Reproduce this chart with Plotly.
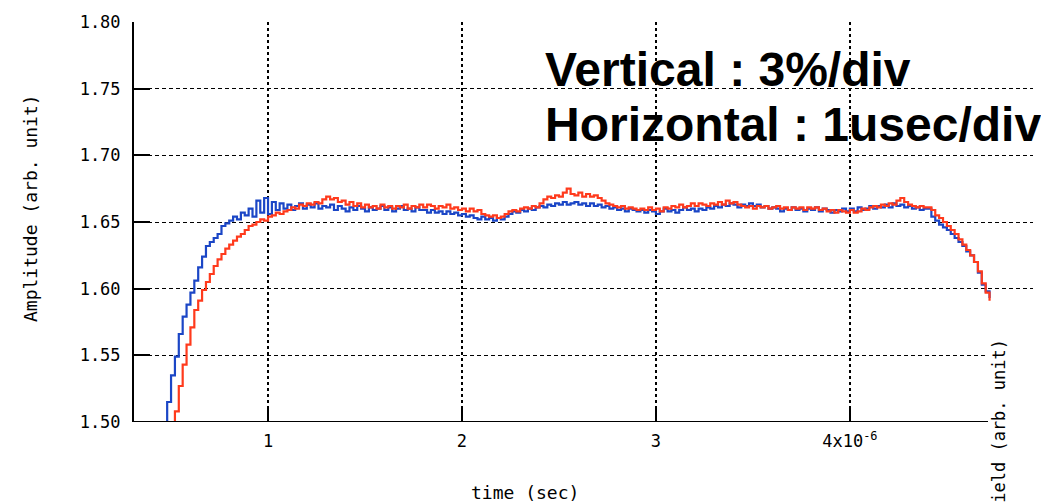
import plotly.graph_objects as go

# ---------------- data (time in microseconds, amplitude arb. unit) ----------------
T_START_US = 0.40
T_STEP_US = 0.02

blue_amplitude = [
    1.460, 1.470, 1.485, 1.499, 1.515, 1.535, 1.549, 1.566, 1.579, 1.588,
    1.597, 1.606, 1.616, 1.624, 1.632, 1.635, 1.638, 1.641, 1.647, 1.649,
    1.651, 1.654, 1.652, 1.657, 1.655, 1.660, 1.654, 1.666, 1.657, 1.668,
    1.656, 1.665, 1.659, 1.664, 1.660, 1.663, 1.659, 1.662, 1.664, 1.660,
    1.663, 1.661, 1.664, 1.660, 1.662, 1.661, 1.663, 1.659, 1.662, 1.660,
    1.658, 1.661, 1.659, 1.662, 1.660, 1.658, 1.661, 1.659, 1.660, 1.662,
    1.659, 1.661, 1.658, 1.660, 1.662, 1.659, 1.660, 1.658, 1.661, 1.659,
    1.659, 1.657, 1.659, 1.657, 1.658, 1.656, 1.658, 1.656, 1.657, 1.655,
    1.656, 1.654, 1.655, 1.653, 1.652, 1.654, 1.652, 1.653, 1.651, 1.653,
    1.652, 1.654, 1.656, 1.658, 1.657, 1.659, 1.658, 1.660, 1.659, 1.661,
    1.662, 1.661, 1.663, 1.662, 1.664, 1.663, 1.665, 1.663, 1.664, 1.665,
    1.663, 1.664, 1.662, 1.664, 1.662, 1.663, 1.661, 1.662, 1.660, 1.661,
    1.659, 1.660, 1.658, 1.660, 1.659, 1.658, 1.659, 1.657, 1.659, 1.658,
    1.656, 1.658, 1.660, 1.658, 1.659, 1.657, 1.659, 1.661, 1.659, 1.660,
    1.658, 1.660, 1.659, 1.661, 1.660, 1.662, 1.661, 1.663, 1.662, 1.664,
    1.663, 1.661, 1.663, 1.662, 1.664, 1.662, 1.663, 1.661, 1.662, 1.660,
    1.661, 1.660, 1.658, 1.660, 1.659, 1.661, 1.659, 1.660, 1.658, 1.660,
    1.659, 1.661, 1.658, 1.660, 1.659, 1.657, 1.659, 1.658, 1.660, 1.658,
    1.660, 1.658, 1.661, 1.659, 1.660, 1.662, 1.660, 1.662, 1.661, 1.663,
    1.661, 1.664, 1.662, 1.663, 1.661, 1.662, 1.660, 1.661, 1.659, 1.660,
    1.660, 1.654, 1.651, 1.648, 1.646, 1.644, 1.641, 1.638, 1.635, 1.632,
    1.628, 1.625, 1.620, 1.612, 1.603, 1.598, 1.593,
]

red_amplitude = [
    1.440, 1.450, 1.460, 1.470, 1.480, 1.495, 1.508, 1.527, 1.543, 1.558,
    1.571, 1.584, 1.591, 1.599, 1.605, 1.611, 1.617, 1.622, 1.626, 1.630,
    1.633, 1.636, 1.639, 1.641, 1.644, 1.647, 1.648, 1.650, 1.652, 1.651,
    1.654, 1.655, 1.657, 1.656, 1.658, 1.659, 1.661, 1.660, 1.663, 1.662,
    1.664, 1.663, 1.665, 1.664, 1.667, 1.669, 1.667, 1.668, 1.665, 1.666,
    1.663, 1.665, 1.662, 1.664, 1.661, 1.663, 1.661, 1.662, 1.660, 1.663,
    1.661, 1.662, 1.660, 1.662, 1.661, 1.663, 1.660, 1.662, 1.661, 1.663,
    1.661, 1.663, 1.662, 1.660, 1.662, 1.661, 1.663, 1.660, 1.661, 1.659,
    1.660, 1.658, 1.660, 1.658, 1.659, 1.656, 1.655, 1.654, 1.655, 1.653,
    1.654, 1.656, 1.658, 1.659, 1.658, 1.660, 1.661, 1.660, 1.662, 1.661,
    1.664, 1.667, 1.669, 1.668, 1.670, 1.669, 1.672, 1.675, 1.671, 1.670,
    1.672, 1.669, 1.671, 1.669, 1.670, 1.668, 1.666, 1.664, 1.663, 1.662,
    1.661, 1.662, 1.660, 1.661, 1.660, 1.659, 1.660, 1.659, 1.661, 1.659,
    1.660, 1.658, 1.661, 1.660, 1.662, 1.661, 1.663, 1.661, 1.662, 1.664,
    1.662, 1.664, 1.663, 1.662, 1.664, 1.663, 1.665, 1.663, 1.666, 1.664,
    1.665, 1.663, 1.662, 1.661, 1.662, 1.660, 1.662, 1.661, 1.662, 1.660,
    1.661, 1.662, 1.660, 1.661, 1.659, 1.661, 1.660, 1.661, 1.659, 1.661,
    1.660, 1.661, 1.659, 1.660, 1.658, 1.659, 1.657, 1.659, 1.658, 1.657,
    1.659, 1.657, 1.658, 1.660, 1.659, 1.661, 1.662, 1.661, 1.663, 1.662,
    1.664, 1.663, 1.666, 1.668, 1.665, 1.663, 1.662, 1.661, 1.662, 1.661,
    1.661, 1.659, 1.655, 1.653, 1.650, 1.647, 1.644, 1.641, 1.637, 1.633,
    1.629, 1.625, 1.620, 1.613, 1.604, 1.597, 1.591,
]

x_tick_values = [1, 2, 3, 4]
x_tick_labels = ["1", "2", "3", "4x10<sup>-6</sup>"]
y_tick_values = [1.50, 1.55, 1.60, 1.65, 1.70, 1.75, 1.80]

X_RANGE = [0.309, 4.944]
Y_RANGE = [1.50, 1.80]
X_AXIS_END = 4.715

blue_time = [round(T_START_US + i * T_STEP_US, 4) for i in range(len(blue_amplitude))]
red_time = [round(T_START_US + i * T_STEP_US, 4) for i in range(len(red_amplitude))]

# ---------------- figure ----------------
W, H = 1041, 502
ML, MR, MT, MB = 134, 8, 22, 80
PW, PH = W - ML - MR, H - MT - MB


def px_x(px):
    return (px - ML) / PW


def px_y(py):
    return (H - MB - py) / PH


mono = "DejaVu Sans Mono"

fig = go.Figure()
fig.add_trace(go.Scatter(x=blue_time, y=blue_amplitude, mode="lines",
                         line=dict(color="#1b46c6", width=2.2, shape="hv"),
                         showlegend=False, hoverinfo="skip"))
fig.add_trace(go.Scatter(x=red_time, y=red_amplitude, mode="lines",
                         line=dict(color="#ff3a1c", width=2.2, shape="hv"),
                         showlegend=False, hoverinfo="skip"))

fig.update_layout(
    width=W, height=H,
    margin=dict(l=ML, r=MR, t=MT, b=MB, pad=0),
    paper_bgcolor="white", plot_bgcolor="white",
    font=dict(family=mono, size=17, color="black"),
    xaxis=dict(range=X_RANGE, tickmode="array", tickvals=x_tick_values,
               ticktext=x_tick_labels, ticks="inside", ticklen=16, tickwidth=2,
               tickcolor="black", showline=False, zeroline=False,
               showgrid=True, gridcolor="black", gridwidth=1.6, griddash="3px,3px",
               ticklabelstandoff=7, tickfont=dict(family=mono, size=17)),
    yaxis=dict(range=Y_RANGE, tickmode="array", tickvals=y_tick_values,
               tickformat=".2f", ticks="inside", ticklen=16, tickwidth=2,
               tickcolor="black", showline=True, linecolor="black", linewidth=2,
               zeroline=False, showgrid=True, gridcolor="black", gridwidth=1.2,
               griddash="4px,3px", ticklabelstandoff=8,
               tickfont=dict(family=mono, size=17)),
)

# bottom axis line (stops short of the right edge as in the original)
fig.add_shape(type="line", xref="paper", yref="y", x0=0,
              x1=(X_AXIS_END - X_RANGE[0]) / (X_RANGE[1] - X_RANGE[0]),
              y0=Y_RANGE[0], y1=Y_RANGE[0], line=dict(color="black", width=2), layer="above")

# white patch where the (cropped) right-hand axis title sits
fig.add_shape(type="rect", xref="paper", yref="paper",
              x0=px_x(988), x1=px_x(1045), y0=px_y(505), y1=px_y(334),
              fillcolor="white", line=dict(width=0), layer="above")

fig.add_annotation(text="Amplitude (arb. unit)", xref="paper", yref="paper",
                   x=px_x(30), y=px_y(208), textangle=-90, showarrow=False,
                   xanchor="center", yanchor="middle",
                   font=dict(family=mono, size=18, color="black"))
fig.add_annotation(text="time (sec)", xref="paper", yref="paper",
                   x=px_x(525), y=px_y(492), showarrow=False,
                   xanchor="center", yanchor="middle",
                   font=dict(family=mono, size=18, color="black"))
fig.add_annotation(text="Field (arb. unit)", xref="paper", yref="paper",
                   x=px_x(999), y=px_y(426), textangle=-90, showarrow=False,
                   xanchor="center", yanchor="middle",
                   font=dict(family=mono, size=17, color="black"))

fig.add_annotation(text="<b>Vertical : 3%/div</b>", xref="paper", yref="paper",
                   x=px_x(543), y=px_y(69), showarrow=False,
                   xanchor="left", yanchor="middle",
                   font=dict(family="Liberation Sans", size=48, color="black"))
fig.add_annotation(text="<b>Horizontal : 1usec/div</b>", xref="paper", yref="paper",
                   x=px_x(543), y=px_y(125), showarrow=False,
                   xanchor="left", yanchor="middle",
                   font=dict(family="Liberation Sans", size=48, color="black"))

fig.write_html("out.html")
